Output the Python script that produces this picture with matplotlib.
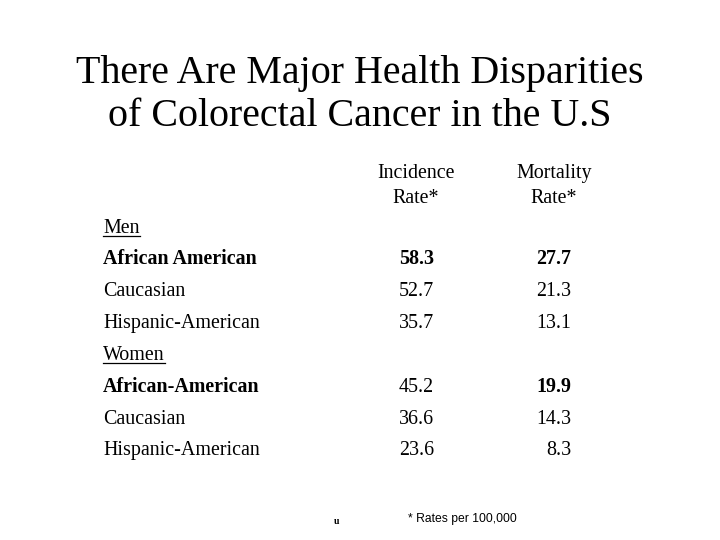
import matplotlib
matplotlib.use("Agg")
import matplotlib.pyplot as plt

title_lines = ["There Are Major Health Disparities", "of Colorectal Cancer in the U.S"]
col_headers = [["Incidence", "Rate*"], ["Mortality", "Rate*"]]
groups = ["Men", "Women"]
groups_rows = [
    ["African American", "Caucasian", "Hispanic-American"],
    ["African-American", "Caucasian", "Hispanic-American"],
]
incidence = [[58.3, 52.7, 35.7], [45.2, 36.6, 23.6]]
mortality = [[27.7, 21.3, 13.1], [19.9, 14.3, 8.3]]
# which cells are bold: (label, incidence, mortality)
bold_cells = [
    [(True, True, True), (False, False, False), (False, False, False)],
    [(True, False, True), (False, False, False), (False, False, False)],
]
footnote = "* Rates per 100,000"

serif = "Liberation Serif"
sans = "Liberation Sans"
fs = 14.4

fig = plt.figure(figsize=(7.2, 5.4), dpi=100)
ax = fig.add_axes([0, 0, 1, 1])
ax.set_xlim(0, 720)
ax.set_ylim(540, 0)
ax.axis("off")

# title
ax.text(360, 73, title_lines[0], family=serif, fontsize=28.8, ha="center", va="center")
ax.text(360, 116, title_lines[1], family=serif, fontsize=28.8, ha="center", va="center")

# column headers (baselines)
for cx, h in zip([416, 554], col_headers):
    ax.text(cx, 178, h[0], family=serif, fontsize=fs, ha="center", va="baseline")
    ax.text(cx, 203, h[1], family=serif, fontsize=fs, ha="center", va="baseline")

group_y = [233, 360]
row_y = [[264, 296, 328], [392, 424, 455]]
fig.canvas.draw()
renderer = fig.canvas.get_renderer()
for g, gy, labels, rys, inc, mor, bc in zip(groups, group_y, groups_rows, row_y,
                                             incidence, mortality, bold_cells):
    t = ax.text(103, gy, g, family=serif, fontsize=fs, ha="left", va="baseline")
    bb = t.get_window_extent(renderer).transformed(ax.transData.inverted())
    ax.plot([bb.x0, bb.x1], [gy + 3, gy + 3], color="black", lw=0.9)
    for lab, y, iv, mv, b in zip(labels, rys, inc, mor, bc):
        ax.text(103, y, lab, family=serif, fontsize=fs, ha="left", va="baseline",
                weight="bold" if b[0] else "normal")
        ax.text(434, y, f"{iv:.1f}", family=serif, fontsize=fs, ha="right",
                va="baseline", weight="bold" if b[1] else "normal")
        ax.text(571, y, f"{mv:.1f}", family=serif, fontsize=fs, ha="right",
                va="baseline", weight="bold" if b[2] else "normal")

# footnote
ax.text(334, 524, "u", family=serif, fontsize=7, weight="bold", ha="left", va="baseline")
ax.text(408, 522, footnote, family=sans, fontsize=8.7, ha="left", va="baseline")

fig.savefig("out.png", dpi=100, facecolor="white")
